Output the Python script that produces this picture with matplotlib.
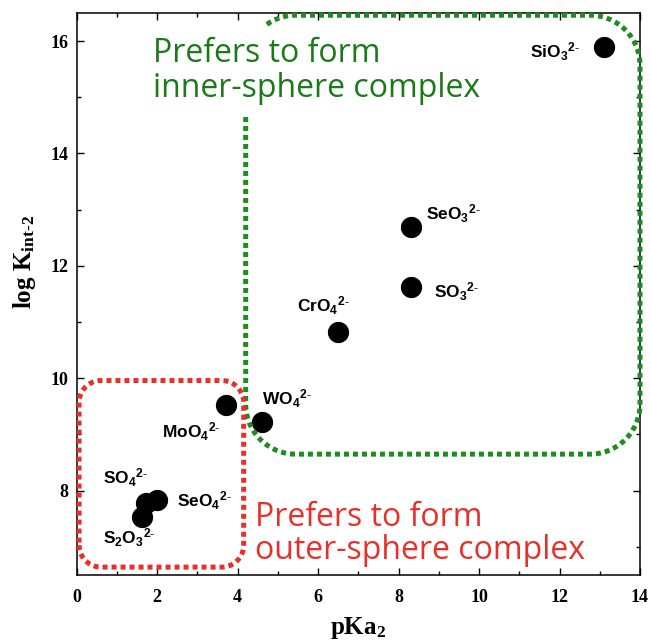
import numpy as np
import matplotlib
matplotlib.use("Agg")
import matplotlib.pyplot as plt
from matplotlib.ticker import MultipleLocator

# --- data: second acid dissociation constant vs. intrinsic surface complexation constant
ions = [r"SiO_3", r"SeO_3", r"SO_3", r"CrO_4", r"WO_4",
        r"MoO_4", r"SO_4", r"SeO_4", r"S_2O_3"]
pka2 = [13.1, 8.3, 8.3, 6.5, 4.6, 3.7, 1.72, 2.0, 1.62]
log_k = [15.9, 12.7, 11.62, 10.82, 9.22, 9.52, 7.78, 7.83, 7.54]

# label offsets from each point (points)
label_offsets = [(-53, -8), (10.8, 4.8), (16.6, -7.6), (-29.5, 14.4), (0.5, 12.2),
                 (-45.9, -23.5), (-31, 13.7), (14.6, -4.8), (-27.9, -19.9)]

x_ticks = [0, 2, 4, 6, 8, 10, 12, 14]
y_ticks = [8, 10, 12, 14, 16]

plt.rcParams["mathtext.fontset"] = "custom"
plt.rcParams["mathtext.rm"] = "Liberation Serif:bold"
plt.rcParams["mathtext.it"] = "Liberation Serif:bold"
plt.rcParams["mathtext.bf"] = "Liberation Serif:bold"
plt.rcParams["mathtext.sf"] = "Liberation Sans:bold"
plt.rcParams["mathtext.default"] = "rm"

fig = plt.figure(figsize=(6.51, 6.40), dpi=100)
ax = fig.add_axes([0.1178, 0.1016, 0.8653, 0.8781])
ax.set_xlim(0, 14)
ax.set_ylim(6.5, 16.5)

ax.plot(pka2, log_k, "o", color="black", markersize=14.3, zorder=3, clip_on=False)
for name, x, y, (dx, dy) in zip(ions, pka2, log_k, label_offsets):
    ax.annotate(r"$\mathsf{" + name + r"{}^{2\text{-}}}$", (x, y), xytext=(dx, dy),
                textcoords="offset points", ha="left", va="baseline",
                fontsize=12.5, zorder=4)


def arc(cx, cy, rx, ry, a0, a1, n=30):
    t = np.radians(np.linspace(a0, a1, n))
    return list(zip(cx + rx * np.cos(t), cy + ry * np.sin(t)))


# rounded-corner radius in data units (x and y scales differ)
def radii(px):
    x0, x1 = ax.get_xlim()
    y0, y1 = ax.get_ylim()
    bb = ax.get_window_extent()
    return px * (x1 - x0) / bb.width, px * (y1 - y0) / bb.height


dotted = dict(ls=(0, (1, 0.8)), lw=3.6, dash_capstyle="butt", clip_on=False, zorder=5)

# inner-sphere region (open at upper left for its caption)
gx0, gx1, gy0, gy1 = 4.2, 14.0, 8.65, 16.46
rx, ry = radii(50)
pts = [(gx0, 14.65), (gx0, gy0 + ry)]
pts += arc(gx0 + rx, gy0 + ry, rx, ry, 180, 270)
pts += arc(gx1 - rx, gy0 + ry, rx, ry, 270, 360)
pts += arc(gx1 - rx, gy1 - ry, rx, ry, 0, 90)
pts += arc(gx0 + rx, gy1 - ry, rx, ry, 90, 126, 10)
gx, gy = zip(*pts)
ax.plot(gx, gy, color="#1e8c1e", **dotted)

# outer-sphere region
rx0, rx1, ry0, ry1 = 0.06, 4.15, 6.64, 9.96
rx, ry = radii(22)
pts = arc(rx0 + rx, ry0 + ry, rx, ry, 180, 270)
pts += arc(rx1 - rx, ry0 + ry, rx, ry, 270, 360)
pts += arc(rx1 - rx, ry1 - ry, rx, ry, 0, 90)
pts += arc(rx0 + rx, ry1 - ry, rx, ry, 90, 180)
pts.append(pts[0])
bx, by = zip(*pts)
ax.plot(bx, by, color="#e8302a", **dotted)

# captions (anchored at the baseline of their last line)
ax.text(1.9, 15.0, "Prefers to form\ninner-sphere complex", color="#1a7a1a",
        family="Open Sans", fontsize=23, ha="left", va="baseline", linespacing=1.08)
ax.text(4.44, 6.79, "Prefers to form\nouter-sphere complex", color="#e8302a",
        family="Open Sans", fontsize=23, ha="left", va="baseline", linespacing=1.0)

ax.set_xticks(x_ticks)
ax.set_yticks(y_ticks)
ax.xaxis.set_minor_locator(MultipleLocator(1))
ax.yaxis.set_minor_locator(MultipleLocator(1))
ax.tick_params(which="both", direction="in", top=True, right=True, width=1)
ax.tick_params(which="major", length=5)
ax.tick_params(which="minor", length=3)
ax.tick_params(axis="x", pad=10)
ax.tick_params(axis="y", pad=6)
for lab in ax.get_xticklabels() + ax.get_yticklabels():
    lab.set_family("Liberation Serif")
    lab.set_weight("bold")
    lab.set_fontsize(13)
for sp in ax.spines.values():
    sp.set_linewidth(1.1)

ax.set_xlabel(r"pKa$_2$", fontsize=18, family="Liberation Serif", weight="bold")
ax.set_ylabel(r"log K$_{int\text{-}2}$", fontsize=18, family="Liberation Serif",
              weight="bold")
ax.xaxis.set_label_coords(0.5, -0.071)
ax.yaxis.set_label_coords(-0.069, 0.557)

fig.savefig("out.png", dpi=100)
